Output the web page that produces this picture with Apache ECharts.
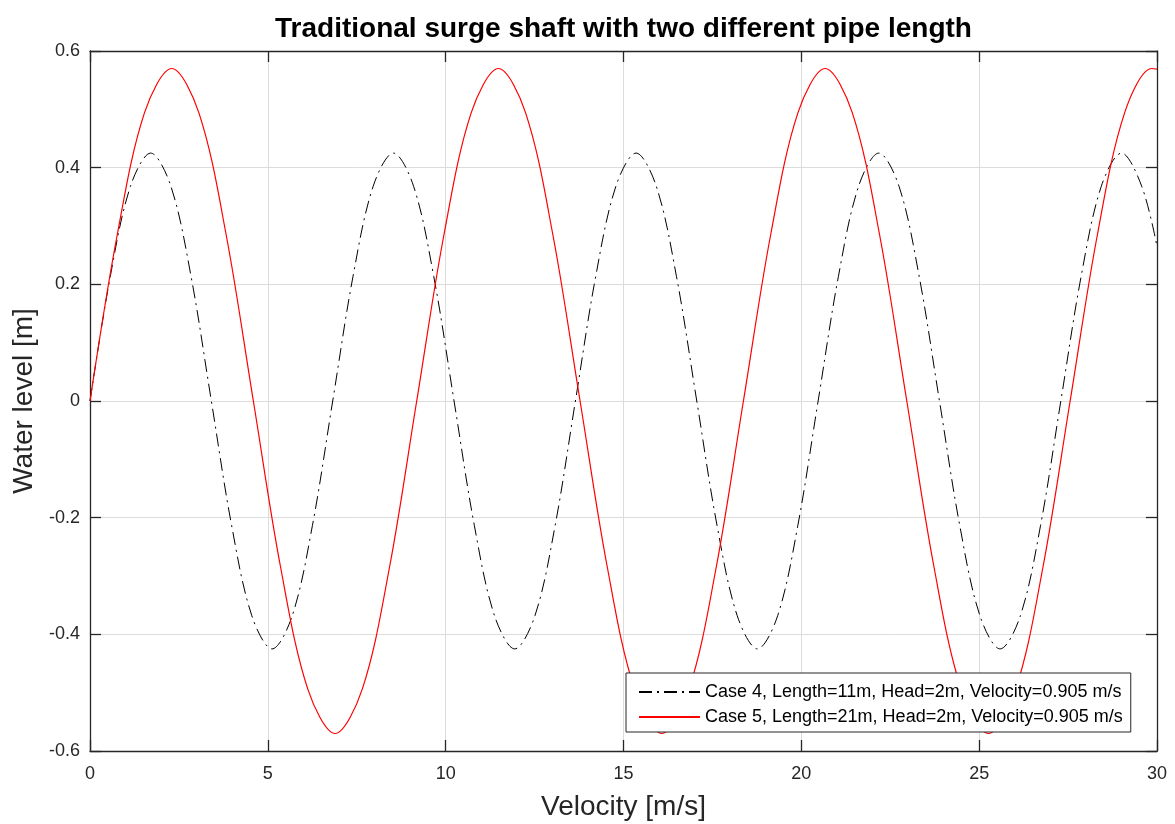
<!DOCTYPE html>
<html>
<head>
<meta charset="utf-8">
<script src="https://cdn.jsdelivr.net/npm/echarts@6/dist/echarts.min.js"></script>
<style>
html,body{margin:0;padding:0;background:#fff;}
#chart{width:1175px;height:824px;}
</style>
</head>
<body>
<div id="chart"></div>
<script>
// Case 4 (black dash-dot)
var case4X = [0, 0.569, 1.137, 1.706, 2.275, 2.843, 3.412, 3.981, 4.549, 5.118, 5.687, 6.255,
  6.824, 7.393, 7.961, 8.530, 9.099, 9.667, 10.236, 10.805, 11.373, 11.942, 12.511, 13.079,
  13.648, 14.217, 14.785, 15.354, 15.923, 16.491, 17.060, 17.629, 18.197, 18.766, 19.335, 19.903,
  20.472, 21.041, 21.609, 22.178, 22.747, 23.315, 23.884, 24.453, 25.021, 25.590, 26.159, 26.727,
  27.296, 27.865, 28.433, 29.002, 29.571, 30];
var case4Y = [0, 0.213, 0.368, 0.425, 0.368, 0.213, 0, -0.213, -0.368, -0.425, -0.368, -0.213,
  0, 0.213, 0.368, 0.425, 0.368, 0.213, 0, -0.213, -0.368, -0.425, -0.368, -0.213,
  0, 0.213, 0.368, 0.425, 0.368, 0.213, 0, -0.213, -0.368, -0.425, -0.368, -0.213,
  0, 0.213, 0.368, 0.425, 0.368, 0.213, 0, -0.213, -0.368, -0.425, -0.368, -0.213,
  0, 0.213, 0.368, 0.425, 0.368, 0.265];

// Case 5 (red solid)
var case5X = [0, 0.766, 1.531, 2.297, 3.062, 3.828, 4.593, 5.359, 6.124, 6.890, 7.655, 8.421,
  9.186, 9.952, 10.717, 11.483, 12.248, 13.014, 13.779, 14.545, 15.310, 16.076, 16.841, 17.607,
  18.372, 19.138, 19.903, 20.669, 21.434, 22.200, 22.965, 23.731, 24.496, 25.262, 26.027, 26.793,
  27.558, 28.324, 29.089, 29.855, 30];
var case5Y = [0, 0.285, 0.494, 0.57, 0.494, 0.285, 0, -0.285, -0.494, -0.57, -0.494, -0.285,
  0, 0.285, 0.494, 0.57, 0.494, 0.285, 0, -0.285, -0.494, -0.57, -0.494, -0.285,
  0, 0.285, 0.494, 0.57, 0.494, 0.285, 0, -0.285, -0.494, -0.57, -0.494, -0.285,
  0, 0.285, 0.494, 0.57, 0.569];

var seriesNames = ['Case 4, Length=11m, Head=2m, Velocity=0.905 m/s',
                   'Case 5, Length=21m, Head=2m, Velocity=0.905 m/s'];
var titleText = 'Traditional surge shaft with two different pipe length';
var xName = 'Velocity [m/s]';
var yName = 'Water level [m]';

function pairs(xs, ys) { return xs.map(function (x, i) { return [x, ys[i]]; }); }

var axisColor = '#262626';
var font = 'Arial, "Liberation Sans", Helvetica, sans-serif';

var chart = echarts.init(document.getElementById('chart'), null, {renderer: 'canvas'});
var baseAxis = {
  axisLine: {show: true, onZero: false, lineStyle: {color: axisColor, width: 1.3}},
  axisTick: {show: true, inside: true, length: 11, lineStyle: {color: axisColor, width: 1.3}}
};
chart.setOption({
  animation: false,
  backgroundColor: '#ffffff',
  title: {
    text: titleText, left: 623.5, top: 15, padding: 0, textAlign: 'center',
    textStyle: {fontFamily: font, fontSize: 28, fontWeight: 'bold', color: '#000'}
  },
  grid: {left: 90, right: 18, top: 51, bottom: 73, containLabel: false, outerBoundsMode: 'none'},
  legend: {
    orient: 'vertical', left: 626, top: 673, z: 20, zlevel: 0,
    padding: [10, 8, 6, 12], itemGap: 7, itemWidth: 61, itemHeight: 16,
    backgroundColor: '#ffffff', borderColor: axisColor, borderWidth: 1, borderRadius: 0,
    itemStyle: {opacity: 0, borderWidth: 0},
    textStyle: {fontFamily: font, fontSize: 18, color: '#000'},
    data: [seriesNames[0], seriesNames[1]]
  },
  xAxis: [
    Object.assign({}, baseAxis, {
      type: 'value', min: 0, max: 30, interval: 5, position: 'bottom',
      name: xName, nameLocation: 'middle', nameGap: 42,
      nameTextStyle: {fontFamily: font, fontSize: 28, color: axisColor},
      axisLabel: {margin: 14, fontFamily: font, fontSize: 18, color: axisColor},
      splitLine: {show: true, lineStyle: {color: '#dcdcdc', width: 1}}
    }),
    Object.assign({}, baseAxis, {
      type: 'value', min: 0, max: 30, interval: 5, position: 'top',
      axisLabel: {show: false}, splitLine: {show: false}
    })
  ],
  yAxis: [
    Object.assign({}, baseAxis, {
      type: 'value', min: -0.6, max: 0.6, interval: 0.2, position: 'left',
      name: yName, nameLocation: 'middle', nameGap: 50, nameRotate: 90,
      nameTextStyle: {fontFamily: font, fontSize: 28, color: axisColor},
      axisLabel: {margin: 10, fontFamily: font, fontSize: 18, color: axisColor,
        formatter: function (v) { return String(Math.round(v * 10) / 10); }},
      splitLine: {show: true, lineStyle: {color: '#dcdcdc', width: 1}}
    }),
    Object.assign({}, baseAxis, {
      type: 'value', min: -0.6, max: 0.6, interval: 0.2, position: 'right',
      axisLabel: {show: false}, splitLine: {show: false}
    })
  ],
  series: [
    {
      name: seriesNames[0], type: 'line', xAxisIndex: 0, yAxisIndex: 0,
      data: pairs(case4X, case4Y), smooth: 0.34, symbol: 'none', showSymbol: false,
      lineStyle: {color: '#000000', width: 1, type: [13, 5, 2, 5]},
      itemStyle: {color: '#000000'}, z: 2
    },
    {
      name: seriesNames[1], type: 'line', xAxisIndex: 0, yAxisIndex: 0,
      data: pairs(case5X, case5Y), smooth: 0.34, symbol: 'none', showSymbol: false,
      lineStyle: {color: '#ff0000', width: 1.2, type: 'solid'},
      itemStyle: {color: '#ff0000'}, z: 3
    }
  ]
});
</script>
</body>
</html>
